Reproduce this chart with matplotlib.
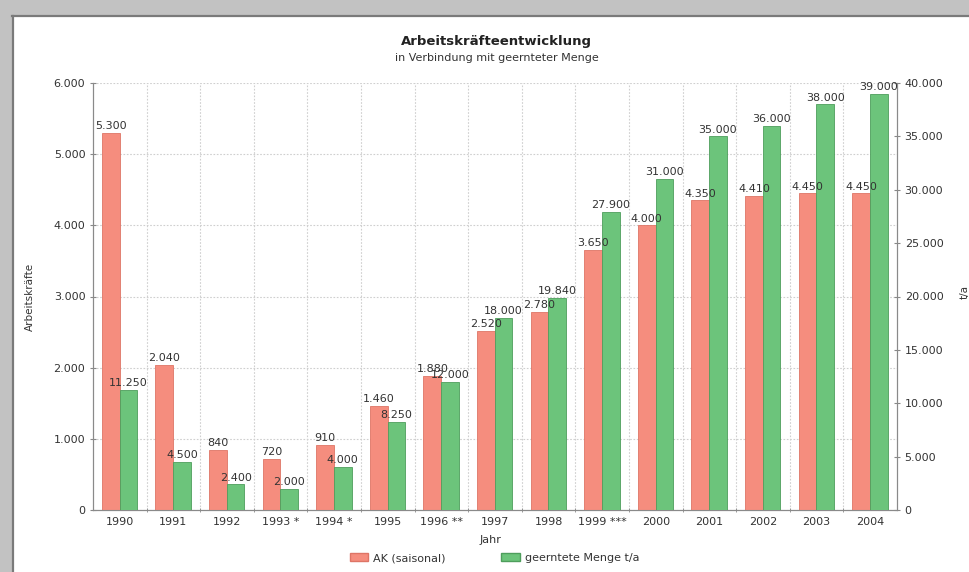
import numpy as np
import matplotlib.pyplot as plt
from matplotlib.patches import Rectangle, Patch
from matplotlib.ticker import FuncFormatter, MultipleLocator

plt.rcParams["font.family"] = ["DejaVu Sans"]

# Harvest and seasonal workforce per year
years = ["1990", "1991", "1992", "1993 *", "1994 *", "1995", "1996 **", "1997",
         "1998", "1999 ***", "2000", "2001", "2002", "2003", "2004"]
ak_saisonal = [5300, 2040, 840, 720, 910, 1460, 1880, 2520, 2780, 3650,
               4000, 4350, 4410, 4450, 4450]
menge_ta = [11250, 4500, 2400, 2000, 4000, 8250, 12000, 18000, 19840, 27900,
            31000, 35000, 36000, 38000, 39000]

C_AK = "#F58D7E"
C_AK_EDGE = "#DE7566"
C_MENGE = "#6CC47B"
C_MENGE_EDGE = "#4E9E5C"
C_TEXT = "#333333"
C_GRID = "#CFCFCF"
FS = 8


def de_thousands(v, _pos=None):
    return f"{int(v):,}".replace(",", ".")


fig = plt.figure(figsize=(9.7, 5.72), dpi=100)

# scanner border: grey frame at top and left
fig.patches.append(Rectangle((0, 1 - 15 / 572), 1, 15 / 572, transform=fig.transFigure,
                             facecolor="#C2C2C2", edgecolor="none", zorder=-5))
fig.patches.append(Rectangle((0, 0), 12 / 970, 1, transform=fig.transFigure,
                             facecolor="#C2C2C2", edgecolor="none", zorder=-5))
fig.add_artist(plt.Line2D([12 / 970, 1], [1 - 16 / 572] * 2, color="#7A7A7A", lw=1.6))
fig.add_artist(plt.Line2D([13 / 970] * 2, [0, 1 - 16 / 572], color="#7A7A7A", lw=1.6))

ax = fig.add_axes([93 / 970, 1 - 510 / 572, (897 - 93) / 970, (510 - 83) / 572])
ax2 = ax.twinx()

x = np.arange(len(years))
w = 0.33
b1 = ax.bar(x - 0.17, ak_saisonal, width=w, color=C_AK, edgecolor=C_AK_EDGE,
            linewidth=0.6, zorder=3, label="AK (saisonal)")
b2 = ax2.bar(x + 0.16, menge_ta, width=w, color=C_MENGE, edgecolor=C_MENGE_EDGE,
             linewidth=0.6, zorder=3, label="geerntete Menge t/a")

# value labels live on the twin axes so they sit above both bar series
for rect, v in zip(b1, ak_saisonal):
    ax2.text(rect.get_x() + rect.get_width() / 2, v + 25, de_thousands(v),
             transform=ax.transData, ha="center", va="bottom", fontsize=FS,
             color=C_TEXT, zorder=5)
for rect, v in zip(b2, menge_ta):
    ax2.text(rect.get_x() + rect.get_width() / 2, v + 170, de_thousands(v),
             ha="center", va="bottom", fontsize=FS, color=C_TEXT, zorder=5)

ax.set_xlim(-0.5, len(years) - 0.5)
ax.set_ylim(0, 6000)
ax2.set_ylim(0, 40000)
ax.yaxis.set_major_locator(MultipleLocator(1000))
ax2.yaxis.set_major_locator(MultipleLocator(5000))
ax.yaxis.set_major_formatter(FuncFormatter(de_thousands))
ax2.yaxis.set_major_formatter(FuncFormatter(de_thousands))

ax.set_xticks(x)
ax.set_xticklabels(years)
ax.set_xticks(x[:-1] + 0.5, minor=True)
ax.tick_params(axis="x", which="major", length=0, pad=5, labelsize=FS, colors=C_TEXT)
ax.tick_params(axis="x", which="minor", length=3, direction="inout", color="#888888")
ax.tick_params(axis="y", length=5, direction="inout", labelsize=FS, colors=C_TEXT,
               color="#888888", pad=3)
ax2.tick_params(axis="y", length=5, direction="inout", labelsize=FS, colors=C_TEXT,
                color="#888888", pad=3)

ax.grid(True, axis="y", which="major", linestyle=(0, (1.5, 1.5)), color=C_GRID, lw=0.8)
ax.grid(True, axis="x", which="minor", linestyle=(0, (1.5, 1.5)), color=C_GRID, lw=0.8)
ax.set_axisbelow(True)

for a in (ax, ax2):
    a.spines["top"].set_visible(False)
    for s in ("left", "right", "bottom"):
        a.spines[s].set_color("#8A8A8A")
        a.spines[s].set_linewidth(0.8)

ax.set_ylabel("Arbeitskräfte", fontsize=7.5, color=C_TEXT)
ax.yaxis.set_label_coords(-0.072, 0.50)
fig.text(0.995, 0.49, "t/a", rotation=90, ha="center", va="center",
         fontsize=7.5, color=C_TEXT)

fig.text(0.512, 1 - 42 / 572, "Arbeitskräfteentwicklung", ha="center", va="center",
         fontsize=9.5, fontweight="bold", color="#222222")
fig.text(0.512, 1 - 58 / 572, "in Verbindung mit geernteter Menge", ha="center",
         va="center", fontsize=FS, color=C_TEXT)
fig.text(0.506, 1 - 540 / 572, "Jahr", ha="center", va="center", fontsize=FS,
         color=C_TEXT)

handles = [Patch(facecolor=C_AK, edgecolor=C_AK_EDGE, label="AK (saisonal)"),
           Patch(facecolor=C_MENGE, edgecolor=C_MENGE_EDGE, label="geerntete Menge t/a")]
fig.legend(handles=handles, loc="center", bbox_to_anchor=(0.510, 1 - 558 / 572), ncol=2,
           frameon=False, fontsize=FS, columnspacing=5.0, handlelength=1.7,
           handleheight=0.8, handletextpad=0.45, labelcolor=C_TEXT)

fig.savefig("out.png", dpi=100)
